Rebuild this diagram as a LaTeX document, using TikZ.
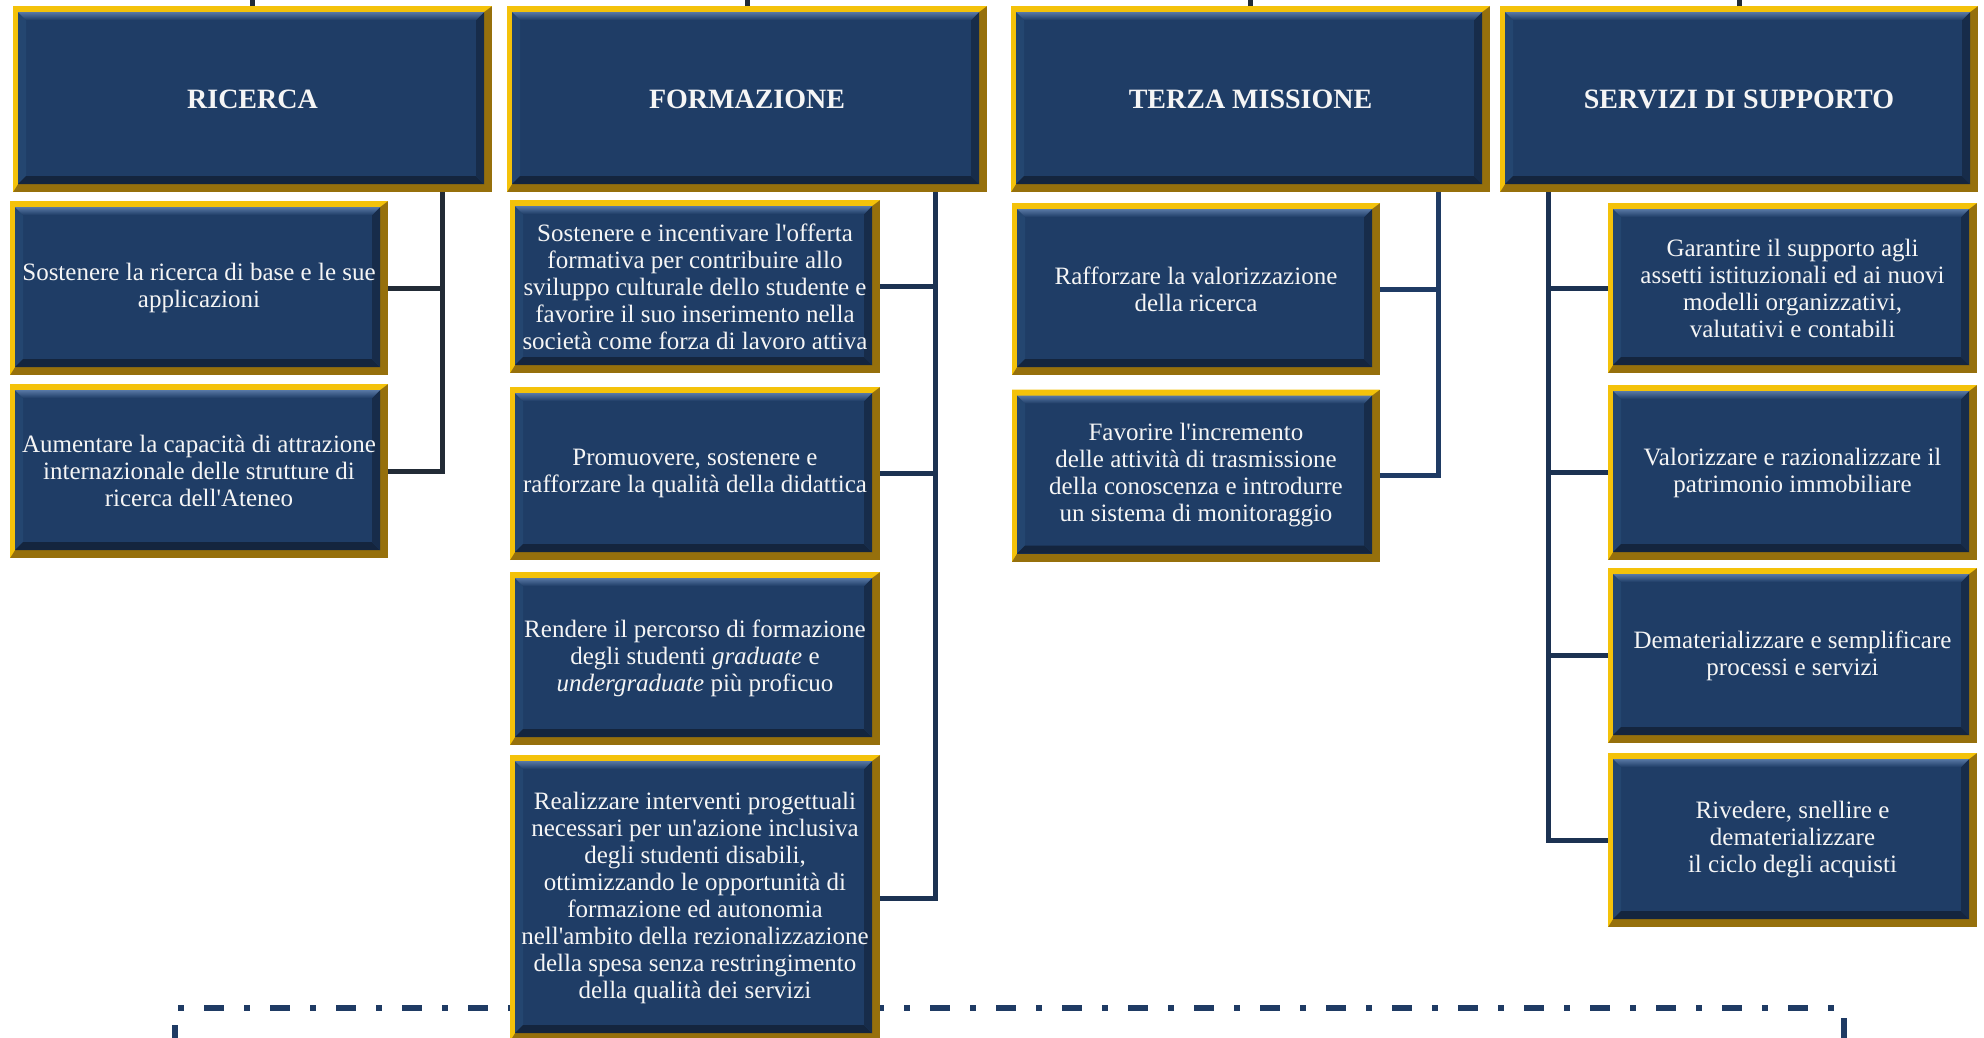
\documentclass[tikz,border=0pt]{standalone}
\usepackage{fontspec}
\setmainfont{Liberation Serif}[Ligatures=TeXOff]
\usetikzlibrary{calc}
\definecolor{navy}{RGB}{31,61,102}
\definecolor{bevT}{RGB}{88,120,165}
\definecolor{bevB}{RGB}{20,37,62}
\definecolor{bevR}{RGB}{23,44,74}
\definecolor{bevL}{RGB}{36,70,112}
\definecolor{goldA}{RGB}{244,194,10}
\definecolor{goldD}{RGB}{150,112,12}
\definecolor{lineDark}{RGB}{34,43,54}
\definecolor{lineNavy}{RGB}{31,59,100}
\definecolor{lineMid}{RGB}{28,50,82}
\definecolor{txtW}{RGB}{245,245,245}
\newcommand{\subfnt}{\fontsize{25}{27}\selectfont}
\newcommand{\ttlfnt}{\fontsize{28}{32}\selectfont\bfseries}
\begin{document}
\begin{tikzpicture}[x=1pt,y=1pt,
  obox/.style={rectangle, inner sep=0pt, outer sep=0pt, text=txtW, align=center,
    path picture={
      \path (path picture bounding box.south west) coordinate (ppsw)
            (path picture bounding box.north east) coordinate (ppne);
      \fill[goldD] (ppsw) rectangle (ppne);
      \fill[goldA] (ppsw) -- (ppsw |- ppne) -- (ppne) -- ($(ppne)+(-8pt,-6pt)$) -- ($(ppsw)+(5pt,8pt)$) -- cycle;
      \path ($(ppsw)+(5pt,8pt)$) coordinate (ppa) ($(ppne)+(-8pt,-6pt)$) coordinate (ppb);
      \fill[navy] (ppa) rectangle (ppb);
      \fill[bevL] (ppa) -- (ppa |- ppb) -- ($(ppa |- ppb)+(8pt,-8pt)$) -- ($(ppa)+(8pt,8pt)$) -- cycle;
      \fill[bevB] (ppa) -- (ppa -| ppb) -- ($(ppa -| ppb)+(-8pt,8pt)$) -- ($(ppa)+(8pt,8pt)$) -- cycle;
      \fill[bevR] (ppa -| ppb) -- (ppb) -- ($(ppb)+(-8pt,-8pt)$) -- ($(ppa -| ppb)+(-8pt,8pt)$) -- cycle;
      \shade[top color=bevT, bottom color=navy] (ppa |- ppb) -- (ppb) -- ($(ppb)+(-8pt,-8pt)$) -- ($(ppa |- ppb)+(8pt,-8pt)$) -- cycle;
    }},
  ttl/.style={obox, font=\ttlfnt, minimum height=186pt},
  sub/.style={obox, font=\subfnt},
  conn/.style={line width=5pt, draw=#1},
  frame/.style={line width=6pt, draw=lineNavy, dash pattern=on 20pt off 20pt on 6pt off 20pt}
]
\useasboundingbox (0,0) rectangle (1984,-1037);
\fill[white] (0,0) rectangle (1984,-1037);

% dash-dot frame (behind boxes)
\draw[frame] (175,-1045) -- (175,-1008) -- (1844,-1008) -- (1844,-1045);

% top boxes
\node[ttl, minimum width=479pt] (ric) at (252.5,-99) {RICERCA};
\node[ttl, minimum width=480pt] (form) at (747,-99) {FORMAZIONE};
\node[ttl, minimum width=479pt] (terza) at (1250.5,-99) {TERZA MISSIONE};
\node[ttl, minimum width=478pt] (serv) at (1739,-99) {SERVIZI DI SUPPORTO};

% top stubs
\coordinate (ricT) at (252.5,0);
\coordinate (formT) at (747,0);
\coordinate (terzaT) at (1250.5,0);
\coordinate (servT) at (1739,0);
\draw[conn=lineDark] (ric.north) -- (ricT);
\draw[conn=lineDark] (form.north) -- (formT);
\draw[conn=lineDark] (terza.north) -- (terzaT);
\draw[conn=lineDark] (serv.north) -- (servT);

% RICERCA
\node[sub, minimum width=378pt, minimum height=174pt] (r1) at (199,-288)
  {Sostenere la ricerca di base e le sue\\applicazioni};
\node[sub, minimum width=378pt, minimum height=174pt] (r2) at (199,-471)
  {Aumentare la capacità di attrazione\\internazionale delle strutture di\\ricerca dell'Ateneo};

% FORMAZIONE
\node[sub, minimum width=370pt, minimum height=173pt] (f1) at (695,-286.5)
  {Sostenere e incentivare l'offerta\\formativa per contribuire allo\\sviluppo culturale dello studente e\\favorire il suo inserimento nella\\società come forza di lavoro attiva};
\node[sub, minimum width=370pt, minimum height=173pt] (f2) at (695,-473.5)
  {Promuovere, sostenere e\\rafforzare la qualità della didattica};
\node[sub, minimum width=370pt, minimum height=173pt] (f3) at (695,-658.5)
  {Rendere il percorso di formazione\\degli studenti \textit{graduate} e\\\textit{undergraduate} più proficuo};
\node[sub, minimum width=370pt, minimum height=286pt] (f4) at (695,-898)
  {Realizzare interventi progettuali\\necessari per un'azione inclusiva\\degli studenti disabili,\\ottimizzando le opportunità di\\formazione ed autonomia\\nell'ambito della rezionalizzazione\\della spesa senza restringimento\\della qualità dei servizi};

% TERZA MISSIONE
\node[sub, minimum width=368pt, minimum height=172pt] (t1) at (1196,-289)
  {Rafforzare la valorizzazione\\della ricerca};
\node[sub, minimum width=368pt, minimum height=172pt] (t2) at (1196,-475.5)
  {Favorire l'incremento\\delle attività di trasmissione\\della conoscenza e introdurre\\un sistema di monitoraggio};

% SERVIZI DI SUPPORTO
\node[sub, minimum width=369pt, minimum height=170pt] (s1) at (1792.5,-288)
  {Garantire il supporto agli\\assetti istituzionali ed ai nuovi\\modelli organizzativi,\\valutativi e contabili};
\node[sub, minimum width=369pt, minimum height=175pt] (s2) at (1792.5,-472.5)
  {Valorizzare e razionalizzare il\\patrimonio immobiliare};
\node[sub, minimum width=369pt, minimum height=175pt] (s3) at (1792.5,-655.5)
  {Dematerializzare e semplificare\\processi e servizi};
\node[sub, minimum width=369pt, minimum height=174pt] (s4) at (1792.5,-840)
  {Rivedere, snellire e\\dematerializzare\\il ciclo degli acquisti};

% connectors
\coordinate (ricX) at (442,0);
\coordinate (formX) at (935,0);
\coordinate (terzaX) at (1438,0);
\coordinate (servX) at (1548,0);

\draw[conn=lineDark] (ric.south -| ricX) |- (r2.east);
\draw[conn=lineDark] (r1.east) -- (r1.east -| ricX);

\draw[conn=lineMid] (form.south -| formX) |- (f4.east);
\draw[conn=lineMid] (f1.east) -- (f1.east -| formX);
\draw[conn=lineMid] (f2.east) -- (f2.east -| formX);

\draw[conn=lineNavy] (terza.south -| terzaX) |- (t2.east);
\draw[conn=lineNavy] (t1.east) -- (t1.east -| terzaX);

\draw[conn=lineMid] (serv.south -| servX) |- (s4.west);
\draw[conn=lineMid] (s1.west) -- (s1.west -| servX);
\draw[conn=lineMid] (s2.west) -- (s2.west -| servX);
\draw[conn=lineMid] (s3.west) -- (s3.west -| servX);
\end{tikzpicture}
\end{document}
